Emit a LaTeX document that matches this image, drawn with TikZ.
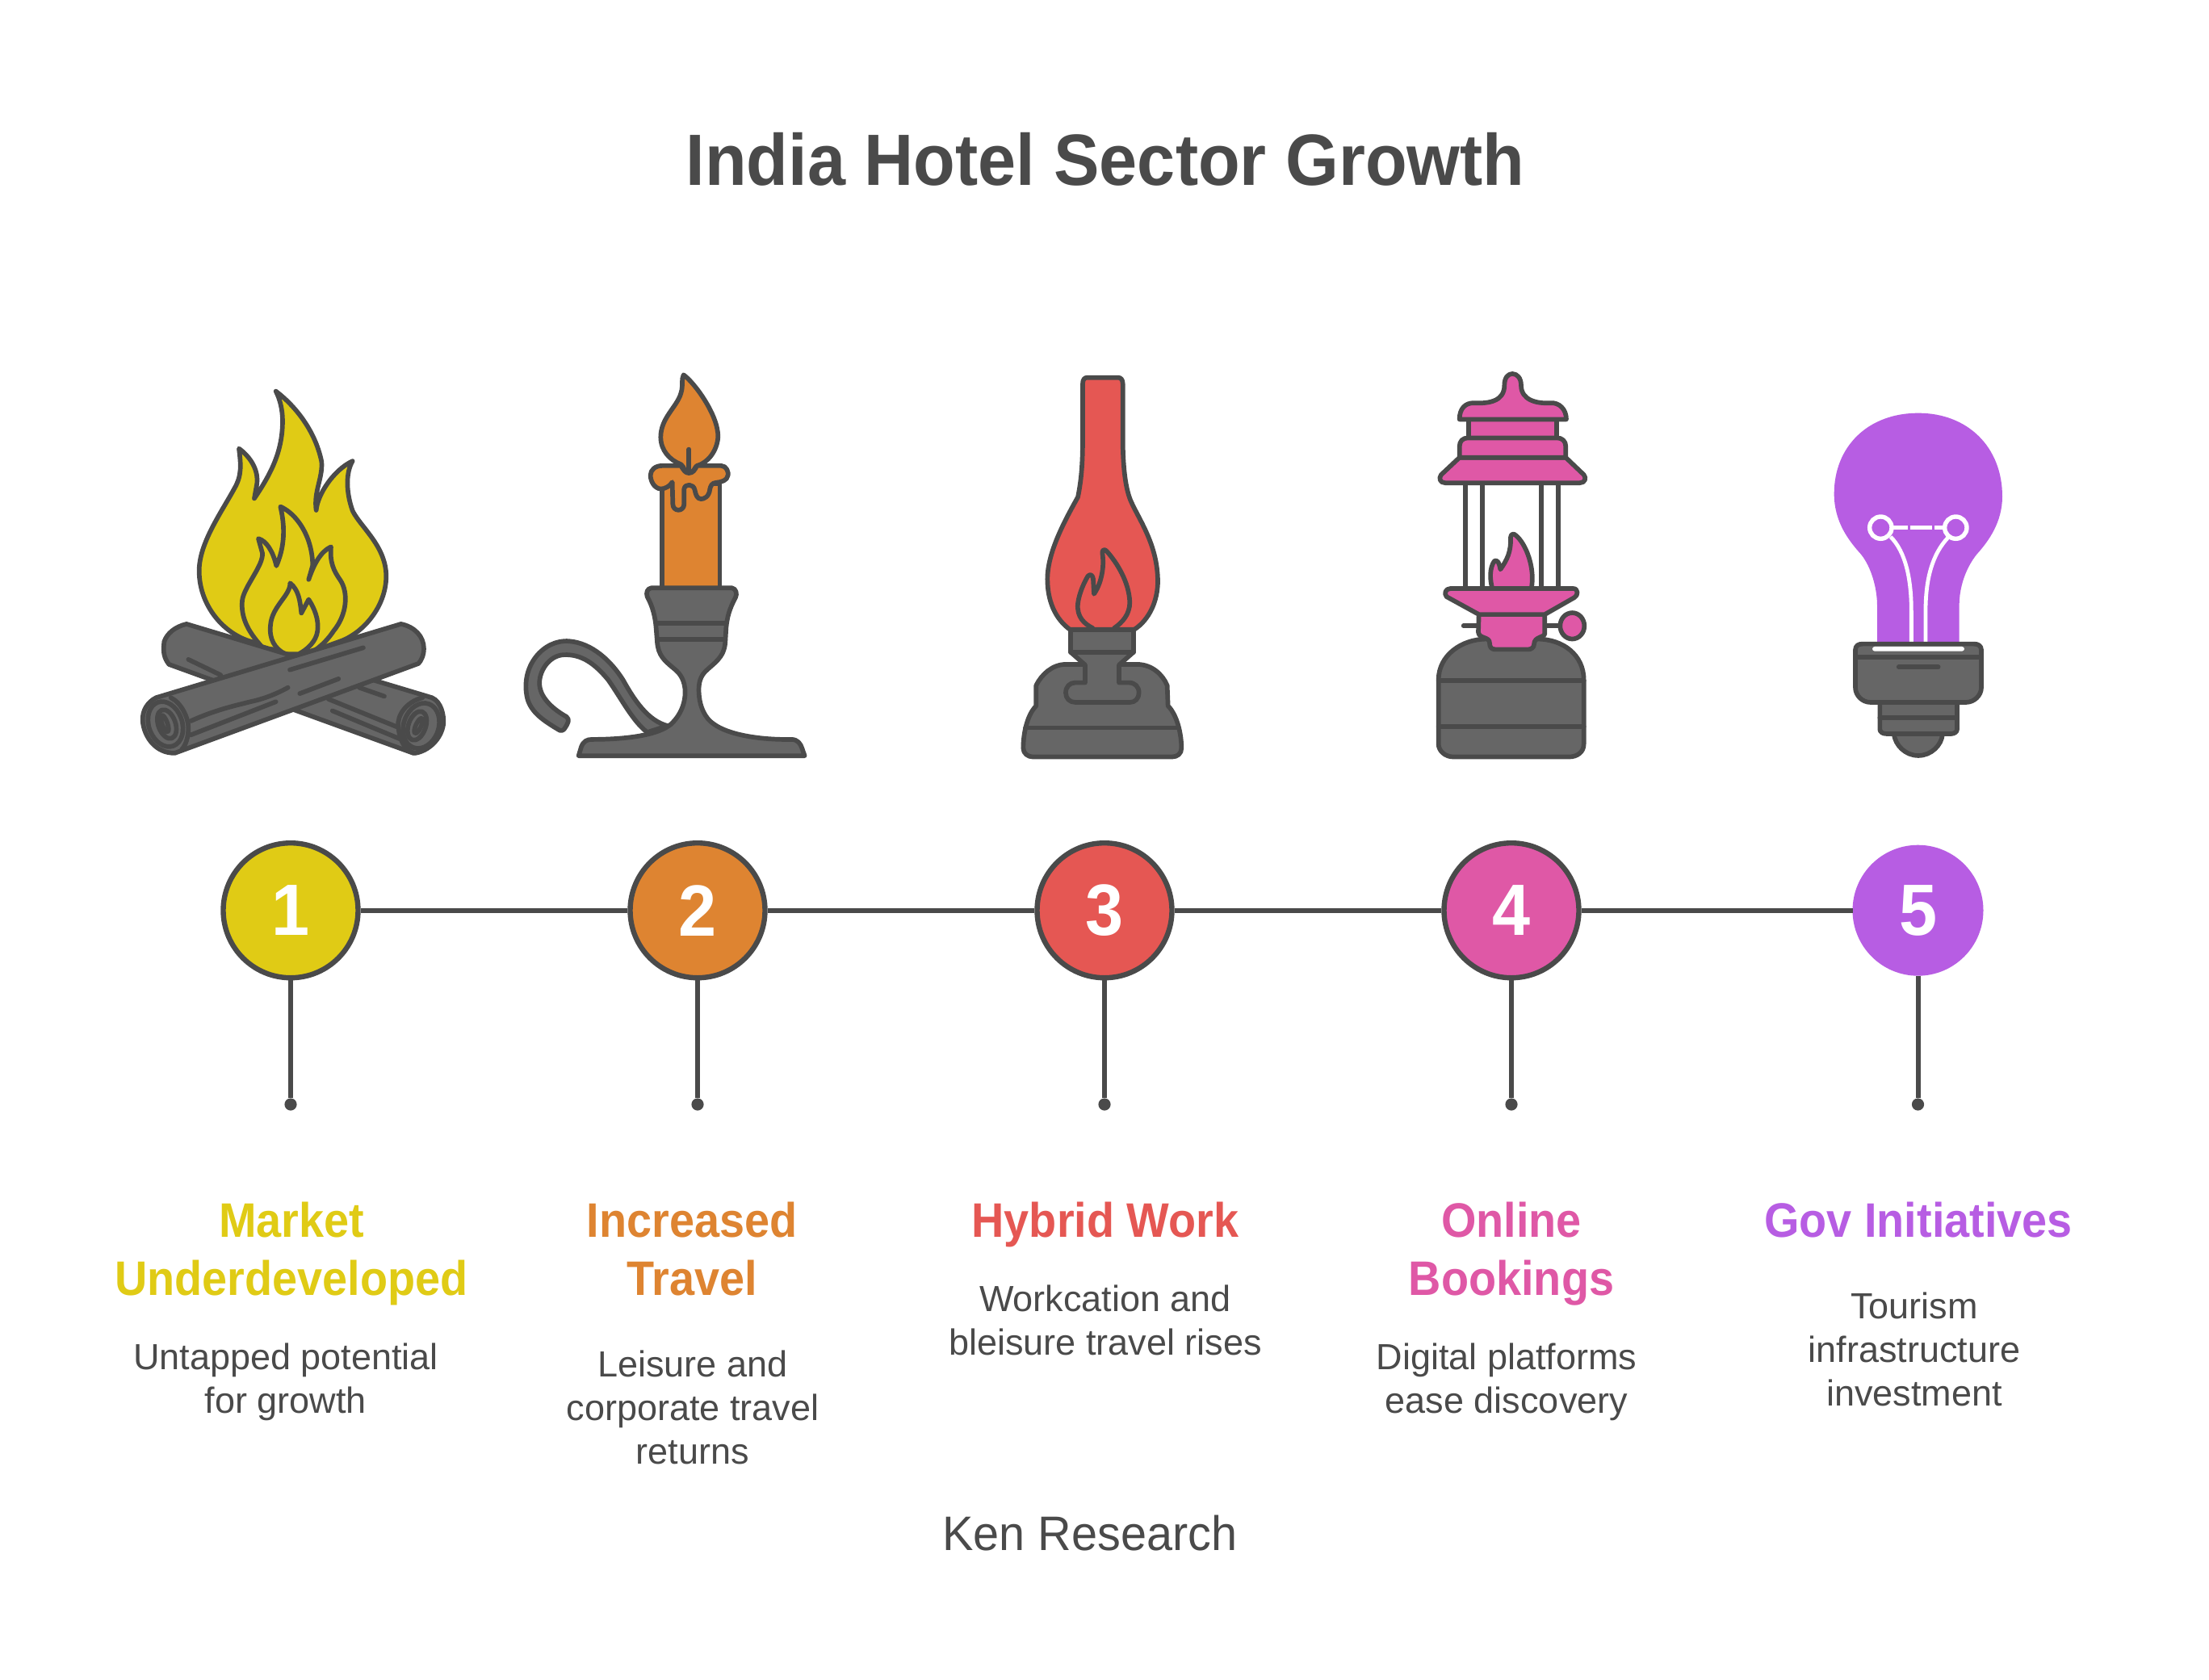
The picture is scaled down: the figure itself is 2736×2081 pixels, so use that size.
\documentclass[tikz,border=0pt]{standalone}
\usepackage{fontspec}
\setmainfont{Liberation Sans}
\newfontfamily\headfont[FakeStretch=0.93]{Liberation Sans}
\newfontfamily\titlefont[FakeStretch=0.94]{Liberation Sans}
\newfontfamily\srcfont[FakeStretch=0.96]{Liberation Sans}
\definecolor{ink}{HTML}{4A4A4A}
\definecolor{metal}{HTML}{666666}
\definecolor{cyl}{HTML}{E0CB15}
\definecolor{cor}{HTML}{DE8431}
\definecolor{cre}{HTML}{E55753}
\definecolor{cpi}{HTML}{DF58A6}
\definecolor{cpu}{HTML}{B75DE3}
\tikzset{
  stroked/.style={draw=ink,line width=2.85pt,line join=round,line cap=round},
  iron/.style={stroked,fill=metal},
  iconat/.style={shift={(#1,440)},xscale=0.3333,yscale=0.338},
  link/.style={draw=ink,line width=3pt},
  badge/.style={circle,draw=ink,line width=3.2pt,minimum size=83.5pt,inner sep=0pt,text=white,font=\titlefont\bfseries\fontsize{45}{45}\selectfont},
  tipdot/.style={circle,fill=ink,minimum size=7.6pt,inner sep=0pt},
  heading/.style={anchor=base,inner sep=0pt,align=center,font=\headfont\bfseries\fontsize{30}{36}\selectfont},
  body/.style={anchor=base,inner sep=0pt,align=center,text=ink,font=\fontsize{22.5}{27}\selectfont}
}
\begin{document}
\begin{tikzpicture}[x=0.5pt,y=-0.5pt]
\useasboundingbox (0,0) rectangle (2736,2081);
\fill[white] (0,0) rectangle (2736,2081);
\node[anchor=base,inner sep=0pt,text=ink,font=\titlefont\bfseries\fontsize{45}{45}\selectfont] (title) at (1369,230) {India Hotel Sector Growth};

% campfire
\begin{scope}[iconat=150]
\path[stroked,fill=cyl] (575,132) .. controls (640,180) and (720,270) .. (745,390) .. controls (750,450) and (715,500) .. (725,568) .. controls (730,510) and (790,420) .. (860,388) .. controls (835,430) and (835,500) .. (860,570) .. controls (890,630) and (985,700) .. (985,810) .. controls (985,920) and (900,1020) .. (810,1050) -- (640,1110) -- (510,1055) .. controls (400,1040) and (290,930) .. (290,790) .. controls (290,690) and (370,580) .. (420,490) .. controls (450,440) and (445,400) .. (438,342) .. controls (490,380) and (510,430) .. (505,470) -- (495,525) .. controls (560,430) and (600,350) .. (600,240) .. controls (600,200) and (590,160) .. (575,132) -- cycle;
\path[stroked,fill=cyl] (520,1065) .. controls (470,1010) and (445,960) .. (450,900) .. controls (455,850) and (530,770) .. (525,725) -- (510,672) .. controls (540,680) and (565,720) .. (577,772) .. controls (600,720) and (615,650) .. (592,555) .. controls (650,580) and (710,660) .. (712,770) -- (697,822) .. controls (715,770) and (740,720) .. (780,702) .. controls (775,760) and (790,790) .. (815,825) .. controls (845,870) and (840,950) .. (790,1010) .. controls (770,1040) and (745,1065) .. (715,1085);
\path[stroked,fill=cyl] (628,835) .. controls (660,860) and (665,900) .. (670,945) -- (697,895) .. controls (720,930) and (735,970) .. (730,1010) .. controls (725,1050) and (690,1080) .. (660,1095) -- (610,1095) .. controls (570,1075) and (550,1040) .. (555,990) .. controls (560,920) and (630,880) .. (628,835) -- cycle;
% back log
\path[iron] (243,985) -- (1155,1255) .. controls (1190,1270) and (1200,1320) .. (1198,1350) .. controls (1190,1410) and (1140,1450) .. (1095,1458) -- (1085,1458) -- (178,1133) .. controls (160,1110) and (155,1090) .. (160,1050) .. controls (170,1020) and (200,995) .. (243,985) -- cycle;
\path[stroked] (250,1115) -- (370,1172);
\path[stroked] (885,1218) -- (978,1250);
\path[stroked] (770,1260) -- (1025,1362);
\path[stroked] (785,1303) -- (1033,1405);
\path[stroked] (1120,1255) .. controls (1060,1270) and (1025,1320) .. (1030,1360) .. controls (1035,1420) and (1060,1450) .. (1090,1458);
\path[stroked,rotate around={-20:(1115,1358)}] (1115,1358) ellipse [x radius=65,y radius=85];
\path[stroked,rotate around={-20:(1100,1358)}] (1100,1358) ellipse [x radius=32,y radius=55];
\path[stroked,rotate around={-25:(1105,1358)}] (1105,1358) ellipse [x radius=10,y radius=30];
% front log
\path[iron] (130,1255) -- (1040,985) .. controls (1090,995) and (1125,1030) .. (1125,1075) .. controls (1125,1100) and (1115,1120) .. (1105,1130) -- (200,1458) .. controls (130,1460) and (85,1400) .. (80,1340) .. controls (78,1300) and (100,1270) .. (130,1255) -- cycle;
\path[stroked] (627,1153) -- (900,1072);
\path[stroked] (664,1240) -- (808,1186);
\path[stroked] (260,1340) .. controls (350,1300) and (420,1285) .. (480,1270) .. controls (530,1260) and (580,1240) .. (620,1218);
\path[stroked] (258,1392) -- (575,1270);
\path[stroked] (185,1255) .. controls (225,1275) and (250,1330) .. (250,1365) .. controls (250,1400) and (240,1430) .. (225,1445);
\path[stroked,rotate around={20:(165,1352)}] (165,1352) ellipse [x radius=62,y radius=85];
\path[stroked,rotate around={20:(170,1352)}] (170,1352) ellipse [x radius=32,y radius=55];
\path[stroked,rotate around={20:(162,1350)}] (162,1350) ellipse [x radius=10,y radius=32];
\end{scope}

% candle
\begin{scope}[iconat=630]
\path[stroked,fill=cor] (570,470) rectangle (785,855);
\path[stroked,fill=cor] (650,72) .. controls (690,100) and (780,220) .. (778,300) .. controls (775,350) and (740,395) .. (700,405) .. controls (690,410) and (690,430) .. (670,432) .. controls (650,430) and (655,410) .. (640,400) .. controls (600,385) and (565,350) .. (565,300) .. controls (565,230) and (625,190) .. (640,140) .. controls (650,110) and (640,90) .. (650,72) -- cycle;
\path[stroked,fill=cor] (570,405) -- (640,405) .. controls (650,420) and (655,432) .. (670,432) .. controls (685,432) and (692,420) .. (700,405) -- (790,405) .. controls (810,405) and (818,430) .. (815,440) .. controls (812,460) and (790,465) .. (770,467) .. controls (755,468) and (750,480) .. (748,490) .. controls (745,520) and (725,527) .. (715,527) .. controls (700,527) and (695,510) .. (692,495) .. controls (688,470) and (655,470) .. (652,490) -- (652,545) .. controls (652,575) and (610,575) .. (610,545) -- (608,465) .. controls (600,480) and (580,490) .. (565,490) .. controls (540,488) and (527,460) .. (527,440) .. controls (527,420) and (545,405) .. (570,405) -- cycle;
\path[stroked] (670,345) -- (670,425);
\path[iron] (190,1375) .. controls (130,1340) and (85,1310) .. (70,1260) .. controls (40,1140) and (130,1040) .. (225,1048) .. controls (310,1055) and (380,1120) .. (425,1190) .. controls (470,1270) and (520,1340) .. (590,1358) -- (515,1382) .. controls (460,1340) and (420,1260) .. (370,1190) .. controls (320,1130) and (270,1095) .. (205,1098) .. controls (150,1100) and (110,1160) .. (115,1210) .. controls (120,1260) and (170,1300) .. (215,1325) .. controls (228,1335) and (220,1350) .. (210,1365) .. controls (205,1375) and (195,1378) .. (190,1375) -- cycle;
\path[iron] (530,853) -- (830,853) .. controls (845,855) and (850,875) .. (843,888) .. controls (820,930) and (812,960) .. (808,1000) -- (805,1050) .. controls (802,1110) and (760,1130) .. (730,1160) .. controls (705,1185) and (705,1220) .. (708,1250) .. controls (712,1290) and (730,1330) .. (760,1350) .. controls (820,1395) and (950,1410) .. (1050,1408) .. controls (1075,1408) and (1085,1425) .. (1090,1440) -- (1100,1468) -- (260,1468) -- (270,1435) .. controls (278,1415) and (290,1408) .. (310,1408) .. controls (400,1408) and (540,1400) .. (600,1355) .. controls (640,1320) and (660,1270) .. (655,1220) .. controls (650,1180) and (630,1160) .. (610,1145) .. controls (580,1120) and (555,1100) .. (552,1050) -- (548,1000) .. controls (545,960) and (535,920) .. (515,885) .. controls (510,870) and (515,855) .. (530,853) -- cycle;
\path[stroked] (555,982) -- (805,982);
\path[stroked] (555,1042) -- (805,1042);
\end{scope}

% oil lamp
\begin{scope}[iconat=1240]
\path[iron] (300,1133) -- (240,1133) .. controls (190,1133) and (150,1170) .. (130,1210) -- (130,1285) .. controls (95,1320) and (82,1390) .. (82,1440) .. controls (82,1460) and (100,1472) .. (118,1472) -- (635,1472) .. controls (655,1472) and (670,1460) .. (670,1440) .. controls (670,1390) and (655,1320) .. (620,1285) -- (617,1210) .. controls (600,1170) and (560,1133) .. (505,1133) -- (450,1133) -- cycle;
\path[stroked] (90,1365) -- (660,1365);
\path[stroked,fill=cre] (303,105) .. controls (303,88) and (310,82) .. (320,82) -- (435,82) .. controls (445,82) and (452,90) .. (452,105) -- (452,300) .. controls (452,400) and (460,480) .. (480,530) .. controls (510,600) and (580,690) .. (582,825) .. controls (583,900) and (550,970) .. (495,1005) -- (255,1005) .. controls (200,965) and (172,900) .. (172,820) .. controls (172,720) and (240,600) .. (285,520) .. controls (300,450) and (303,380) .. (303,300) -- cycle;
\path[stroked] (340,1000) .. controls (310,985) and (280,960) .. (285,910) .. controls (290,870) and (310,830) .. (322,810) .. controls (330,800) and (340,805) .. (342,820) -- (345,875) .. controls (370,840) and (385,780) .. (376,725) .. controls (375,712) and (385,710) .. (392,718) .. controls (430,760) and (475,830) .. (478,905) .. controls (478,950) and (450,980) .. (420,1000);
\path[iron] (258,1088) -- (312,1135) -- (312,1200) -- (275,1200) .. controls (255,1200) and (240,1215) .. (240,1237) .. controls (240,1258) and (255,1272) .. (275,1272) -- (480,1272) .. controls (497,1272) and (512,1258) .. (512,1237) .. controls (512,1215) and (497,1200) .. (475,1200) -- (438,1200) -- (438,1135) -- (492,1088) -- cycle;
\path[iron] (258,1005) -- (492,1005) -- (492,1088) -- (258,1088) -- cycle;
\end{scope}

% lantern
\begin{scope}[iconat=1760]
\path[stroked] (165,470) -- (165,855);
\path[stroked] (227,470) -- (227,855);
\path[stroked] (448,470) -- (448,855);
\path[stroked] (511,470) -- (511,855);
\path[stroked,fill=cpi] (265,855) .. controls (255,820) and (255,780) .. (272,755) .. controls (280,748) and (290,755) .. (295,785) .. controls (320,750) and (335,720) .. (333,668) .. controls (333,655) and (345,652) .. (352,660) .. controls (390,690) and (425,780) .. (410,855) -- cycle;
\path[iron] (65,1190) .. controls (65,1100) and (150,1040) .. (245,1040) -- (430,1040) .. controls (530,1040) and (605,1100) .. (605,1190) -- (605,1425) .. controls (605,1455) and (580,1472) .. (550,1472) -- (120,1472) .. controls (90,1472) and (65,1450) .. (65,1425) -- cycle;
\path[stroked] (65,1192) -- (605,1192);
\path[stroked] (65,1360) -- (605,1360);
\path[stroked] (158,992) -- (213,992);
\path[stroked] (465,992) -- (518,992);
\path[stroked,fill=cpi] (562,992) ellipse [x radius=45,y radius=48];
\path[stroked,fill=cpi] (215,950) -- (460,950) -- (460,1020) .. controls (460,1035) and (420,1030) .. (420,1060) .. controls (420,1070) and (410,1078) .. (400,1078) -- (275,1078) .. controls (262,1078) and (255,1070) .. (255,1055) .. controls (255,1030) and (215,1040) .. (213,1015) -- cycle;
\path[stroked,fill=cpi] (215,950) -- (95,885) .. controls (85,875) and (90,855) .. (110,855) -- (565,855) .. controls (585,855) and (585,880) .. (570,888) -- (460,950) -- cycle;
\path[stroked,fill=cpi] (178,235) rectangle (503,303);
\path[stroked,fill=cpi] (143,375) -- (538,375) -- (605,438) .. controls (615,450) and (610,468) .. (590,468) -- (90,468) .. controls (70,468) and (65,450) .. (75,438) -- cycle;
\path[stroked,fill=cpi] (143,375) -- (143,335) .. controls (143,315) and (155,303) .. (175,303) -- (505,303) .. controls (525,303) and (538,315) .. (538,335) -- (538,375) -- cycle;
\path[stroked,fill=cpi] (143,235) .. controls (143,195) and (165,175) .. (195,175) .. controls (250,178) and (310,170) .. (310,110) .. controls (310,80) and (325,68) .. (340,68) .. controls (358,68) and (372,85) .. (372,110) .. controls (372,165) and (430,178) .. (480,175) .. controls (515,172) and (540,200) .. (540,235) -- cycle;
\end{scope}

% bulb
\begin{scope}[shift={(2260,490)},scale=0.3333]
\fill[cpu] (195,925) -- (195,780) .. controls (195,720) and (175,640) .. (135,590) .. controls (90,540) and (35,470) .. (35,365) .. controls (35,190) and (160,65) .. (348,65) .. controls (530,65) and (660,190) .. (660,375) .. controls (660,470) and (610,540) .. (565,590) .. controls (525,640) and (500,710) .. (500,780) -- (500,925) -- cycle;
\draw[white,line width=2.7pt] (208,491) circle [radius=41];
\draw[white,line width=2.7pt] (487,491) circle [radius=41];
\draw[white,line width=2.4pt] (250,491) -- (308,491);
\draw[white,line width=2.4pt] (318,491) -- (398,491);
\draw[white,line width=2.4pt] (408,491) -- (446,491);
\draw[white,line width=2.4pt] (245,525) .. controls (300,580) and (322,680) .. (322,800) -- (322,920);
\draw[white,line width=2.4pt] (458,528) .. controls (400,590) and (375,680) .. (375,800) -- (375,920);
\path[iron] (257,1257) .. controls (262,1300) and (300,1338) .. (348,1338) .. controls (395,1338) and (435,1300) .. (438,1257) -- cycle;
\path[iron] (205,1140) -- (205,1240) .. controls (205,1250) and (215,1257) .. (230,1257) -- (470,1257) .. controls (482,1257) and (492,1250) .. (492,1240) -- (492,1140) -- cycle;
\path[stroked] (205,1198) -- (492,1198);
\path[iron] (114,945) .. controls (114,930) and (125,923) .. (140,923) -- (555,923) .. controls (570,923) and (582,930) .. (582,945) -- (582,1085) .. controls (582,1115) and (555,1140) .. (525,1140) -- (170,1140) .. controls (140,1140) and (114,1115) .. (114,1085) -- cycle;
\path[stroked] (114,973) -- (582,973);
\fill[white,rounded corners=1.5pt] (177,933) rectangle (519,950);
\path[stroked] (275,1009) -- (422,1009);
\end{scope}

% timeline
\node[badge,fill=cyl] (c1) at (360,1127.7) {1};
\node[badge,fill=cor] (c2) at (864,1127.7) {2};
\node[badge,fill=cre] (c3) at (1368,1127.7) {3};
\node[badge,fill=cpi] (c4) at (1872,1127.7) {4};
\node[badge,fill=cpu,draw=none,minimum size=81pt,outer sep=0pt] (c5) at (2375.5,1127.7) {5};
\node[tipdot] (d1) at (360,1368) {};
\node[tipdot] (d2) at (864,1368) {};
\node[tipdot] (d3) at (1368,1368) {};
\node[tipdot] (d4) at (1872,1368) {};
\node[tipdot] (d5) at (2375.5,1368) {};
\foreach \a/\b in {c1/c2,c2/c3,c3/c4,c4/c5,c1/d1,c2/d2,c3/d3,c4/d4,c5/d5} \draw[link] (\a) -- (\b);

% labels
\node[heading,text=cyl] (h1) at (361,1604.7) {Market\\Underdeveloped};
\node[heading,text=cor] (h2) at (857,1604.7) {Increased\\Travel};
\node[heading,text=cre] (h3) at (1369,1532.7) {Hybrid Work};
\node[heading,text=cpi] (h4) at (1872,1604.7) {Online\\Bookings};
\node[heading,text=cpu] (h5) at (2376,1532.7) {Gov Initiatives};
\node[body] (b1) at (354,1750) {Untapped potential\\for growth};
\node[body] (b2) at (858,1813.3) {Leisure and\\corporate travel\\returns};
\node[body] (b3) at (1369,1678) {Workcation and\\bleisure travel rises};
\node[body] (b4) at (1866,1750) {Digital platforms\\ease discovery};
\node[body] (b5) at (2371,1741.7) {Tourism\\infrastructure\\investment};
\node[anchor=base,inner sep=0pt,text=ink,font=\srcfont\fontsize{30}{36}\selectfont] (src) at (1350,1920.7) {Ken Research};
\end{tikzpicture}
\end{document}
